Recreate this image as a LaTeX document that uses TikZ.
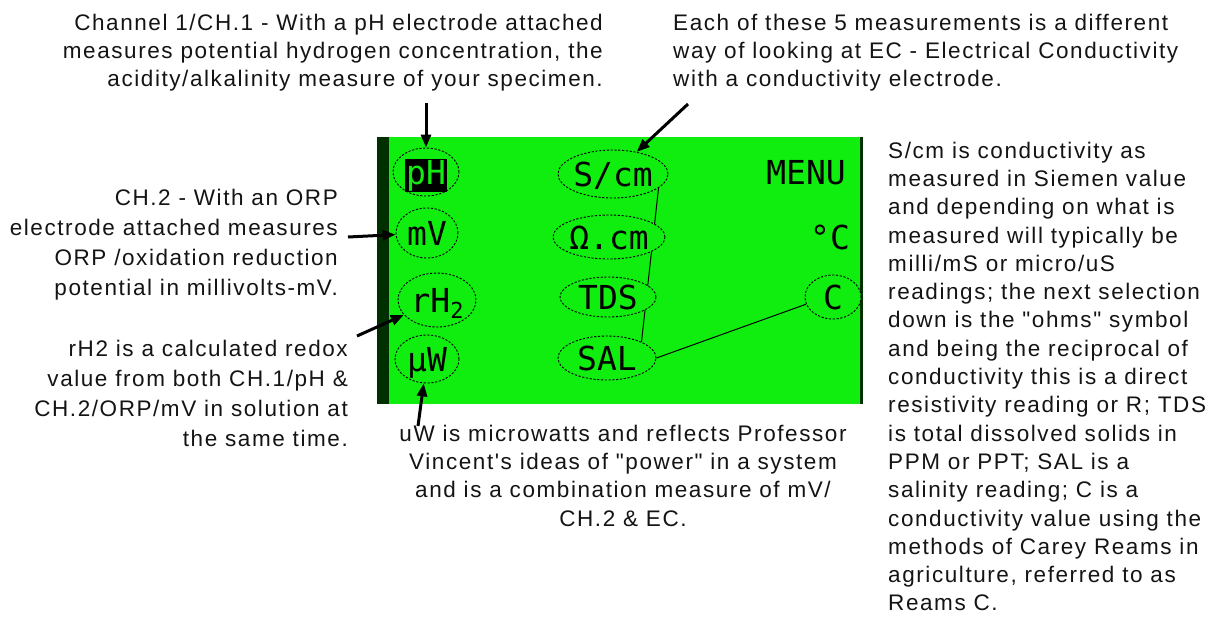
\documentclass[tikz,border=0pt]{standalone}
\usepackage{fontspec}
\setmainfont{Liberation Sans}
\newfontfamily\txtfont{Liberation Sans}[LetterSpace=7]
\newfontfamily\lcdfont{DejaVu Sans Mono}
\usetikzlibrary{shapes.geometric,arrows.meta}
\definecolor{lcdgreen}{RGB}{16,238,16}
\definecolor{lcddark}{RGB}{0,48,0}
\definecolor{ink}{RGB}{20,20,20}
\pgfdeclarelayer{back}
\pgfdeclarelayer{wires}
\pgfsetlayers{back,wires,main}
\begin{document}
\begin{tikzpicture}[x=1pt,y=-1pt,
  txt/.style={font=\txtfont\fontsize{22.5}{28.3}\selectfont, inner sep=0pt, text=ink},
  txtwide/.style={font=\txtfont\fontsize{22.5}{30}\selectfont, inner sep=0pt, text=ink},
  lcd/.style={ellipse, draw=black, line width=0.9pt, dash pattern=on 2.2pt off 1.6pt, fill=lcdgreen, inner sep=0pt, font=\lcdfont\fontsize{33}{33}\selectfont, text height=24pt, text depth=0pt},
  lcdtext/.style={inner sep=0pt, font=\lcdfont\fontsize{33}{33}\selectfont, text=black},
  pointer/.style={line width=3pt, draw=black, -{Triangle[length=13pt,width=10pt]}},
  wire/.style={line width=1pt, draw=black}]
\useasboundingbox (0,0) rectangle (1217,619);
% screen
\begin{pgfonlayer}{back}
\fill[white] (0,0) rectangle (1217,619);
\node[fill=lcdgreen, minimum width=486pt, minimum height=267pt, inner sep=0pt, anchor=north west] (screen) at (377,137) {};
\fill[lcddark] (screen.north west) rectangle ([xshift=12pt]screen.south west);
\fill[lcddark] ([xshift=-3pt]screen.north east) rectangle (screen.south east);
\end{pgfonlayer}
% lcd items
\node[lcd, minimum width=66pt, minimum height=48pt] (ph) at (426,172) {\makebox[20pt]{\fboxsep=1pt\colorbox{black}{\textcolor{lcdgreen}{pH}}}};
\node[lcd, minimum width=62pt, minimum height=50pt] (mv) at (427,233) {\makebox[20pt]{mV}};
\node[lcd, minimum width=78pt, minimum height=54pt] (rh) at (437,300) {\makebox[20pt]{rH\raisebox{-6pt}{\fontsize{22}{22}\selectfont 2}}};
\node[lcd, minimum width=64pt, minimum height=48pt] (uw) at (427,359) {\makebox[20pt]{µW}};
\node[lcd, minimum width=110pt, minimum height=48pt] (scm) at (613,174) {\makebox[20pt]{S/cm}};
\node[lcd, minimum width=112pt, minimum height=44pt] (ocm) at (609,237) {\makebox[20pt]{Ω.cm}};
\node[lcd, minimum width=96pt, minimum height=40pt] (tds) at (608,297) {\makebox[20pt]{TDS}};
\node[lcd, minimum width=98pt, minimum height=44pt] (sal) at (607,358) {\makebox[20pt]{SAL}};
\node[lcd, minimum width=56pt, minimum height=44pt] (cc) at (833,297) {\makebox[20pt]{C}};
\node[lcdtext] (menu) at (806,173) {MENU};
\node[lcdtext] (degc) at (830,237) {°C};
% connectors under the ellipses
\begin{pgfonlayer}{wires}
\draw[wire] (scm.-17) -- (sal.25);
\draw[wire] (sal.east) -- (cc.195);
\end{pgfonlayer}
% texts
\node[txt, align=right, anchor=north east] (t1) at (603,13.6) {Channel 1/CH.1 - With a pH electrode attached\\measures potential hydrogen concentration, the\\acidity/alkalinity measure of your specimen.};
\node[txt, align=left, anchor=north west] (t2) at (673,13.6) {Each of these 5 measurements is a different\\way of looking at EC - Electrical Conductivity\\with a conductivity electrode.};
\node[txtwide, align=right, anchor=north east] (t3) at (338,188.6) {CH.2 - With an ORP\\electrode attached measures\\ORP /oxidation reduction\\potential in millivolts-mV.};
\node[txtwide, align=right, anchor=north east] (t4) at (348,339.6) {rH2 is a calculated redox\\value from both CH.1/pH \&\\CH.2/ORP/mV in solution at\\the same time.};
\node[txt, align=center, anchor=north] (t5) at (623,424.6) {uW is microwatts and reflects Professor\\Vincent's ideas of "power" in a system\\and is a combination measure of mV/\\CH.2 \& EC.};
\node[txt, align=left, anchor=north west] (t6) at (888,141.6) {S/cm is conductivity as\\measured in Siemen value\\and depending on what is\\measured will typically be\\milli/mS or micro/uS\\readings; the next selection\\down is the "ohms" symbol\\and being the reciprocal of\\conductivity this is a direct\\resistivity reading or R; TDS\\is total dissolved solids in\\PPM or PPT; SAL is a\\salinity reading; C is a\\conductivity value using the\\methods of Carey Reams in\\agriculture, referred to as\\Reams C.};
% pointers
\coordinate (phA) at (426,103);
\coordinate (scmA) at (688,104);
\coordinate (mvA) at (348,237);
\coordinate (rhA) at (357,336);
\coordinate (uwA) at (418,426);
\draw[pointer] (phA) -- (ph);
\draw[pointer] (scmA) -- (scm);
\draw[pointer] (mvA) -- (mv);
\draw[pointer] (rhA) -- (rh);
\draw[pointer] (uwA) -- (uw);
\end{tikzpicture}
\end{document}
